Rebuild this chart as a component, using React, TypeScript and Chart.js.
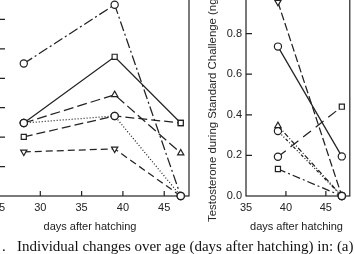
import React, { useEffect, useRef } from 'react';
import { Chart, registerables } from 'chart.js';
Chart.register(...registerables);

// ---- data ----
const leftDays = [28, 39, 47];
const leftSeriesA = [4.5, 6.5, 0];
const leftSeriesB = [2.48, 4.73, 2.48];
const leftSeriesC = [2.48, 3.44, 1.46];
const leftSeriesD = [2.48, 2.72, 0];
const leftSeriesE = [2.01, 2.72, 2.48];
const leftSeriesF = [1.5, 1.6, 0];
const leftXTicks = [25, 30, 35, 40, 45];
const leftYTicks = [0, 1, 2, 3, 4, 5, 6];

const rightDays = [39, 47];
const rightSeries1 = [0.955, 0];
const rightSeries2 = [0.736, 0.195];
const rightSeries3 = [0.346, 0];
const rightSeries4 = [0.32, 0];
const rightSeries5 = [0.193, 0.44];
const rightSeries6 = [0.133, 0];
const rightXTicks = [35, 40, 45];
const rightYTicks = [0, 0.2, 0.4, 0.6, 0.8, 1.0];
const rightYLabels = ['0.0', '0.2', '0.4', '0.6', '0.8', '1.0'];

const xTitle = 'days after hatching';
const yTitleRight = 'Testosterone during Standard Challenge (ng/ml)';
const caption = 'Individual changes over age (days after hatching) in: (a)';

const INK = '#222';
const TICK_FONT = { family: "'Liberation Sans', Arial, sans-serif", size: 11 };

const framePlugin = {
  id: 'frame',
  beforeDatasetsDraw(chart: any) {
    const { ctx, chartArea: a, scales } = chart;
    ctx.save();
    ctx.strokeStyle = INK;
    ctx.lineWidth = 1.2;
    ctx.strokeRect(a.left, a.top, a.right - a.left, a.bottom - a.top);
    ctx.beginPath();
    for (const t of scales.x.ticks) {
      const px = scales.x.getPixelForValue(t.value);
      if (px <= a.left + 1 || px >= a.right - 1) continue;
      ctx.moveTo(px, a.bottom);
      ctx.lineTo(px, a.bottom - 5);
    }
    for (const t of scales.y.ticks) {
      const py = scales.y.getPixelForValue(t.value);
      if (py >= a.bottom - 1 || py <= a.top + 1) continue;
      ctx.moveTo(a.left, py);
      ctx.lineTo(a.left + 6, py);
    }
    ctx.stroke();
    ctx.restore();
  },
};

function ds(days: number[], vals: number[], dash: number[], styles: string[], rot: number[]) {
  return {
    data: days.map((d, i) => ({ x: d, y: vals[i] })),
    borderColor: INK,
    borderWidth: 1.25,
    borderDash: dash,
    pointStyle: styles,
    pointRotation: rot,
    pointRadius: 3.6,
    pointBorderWidth: 1.2,
    pointBorderColor: INK,
    pointBackgroundColor: '#fff',
    tension: 0,
    fill: false,
    clip: false as any,
  };
}

function makeOptions(xMin: number, xMax: number, yMin: number, yMax: number, xTicks: number[], yTicks: number[], yWidth: number, showY: boolean, yLabels: string[] | null, pad: any) {
  return {
    responsive: false,
    animation: false as const,
    layout: { padding: pad },
    plugins: { legend: { display: false }, tooltip: { enabled: false } },
    scales: {
      x: {
        type: 'linear' as const,
        min: xMin,
        max: xMax,
        afterBuildTicks: (s: any) => { s.ticks = xTicks.map((v) => ({ value: v })); },
        afterFit: (s: any) => { s.height = 58; },
        grid: { display: false, drawTicks: false },
        border: { display: false },
        ticks: { color: INK, font: TICK_FONT, padding: 5, maxRotation: 0, autoSkip: false },
      },
      y: {
        type: 'linear' as const,
        min: yMin,
        max: yMax,
        afterBuildTicks: (s: any) => { s.ticks = yTicks.map((v) => ({ value: v })); },
        afterFit: (s: any) => { s.width = yWidth; },
        grid: { display: false, drawTicks: false },
        border: { display: false },
        ticks: {
          display: showY,
          color: INK,
          font: TICK_FONT,
          padding: 4,
          callback: (v: any) => {
            if (!yLabels) return String(v);
            const i = yTicks.findIndex((t) => Math.abs(t - v) < 1e-9);
            return i >= 0 ? yLabels[i] : '';
          },
        },
      },
    },
  };
}

export default function App() {
  const leftRef = useRef<HTMLCanvasElement>(null);
  const rightRef = useRef<HTMLCanvasElement>(null);

  useEffect(() => {
    const left = new Chart(leftRef.current!, {
      type: 'line',
      data: {
        datasets: [
          ds(leftDays, leftSeriesA, [10, 3, 2, 3], ['circle', 'circle', 'circle'], [0, 0, 0]),
          ds(leftDays, leftSeriesB, [], ['circle', 'rect', 'rect'], [0, 0, 0]),
          ds(leftDays, leftSeriesC, [10, 4], ['circle', 'triangle', 'triangle'], [0, 0, 0]),
          ds(leftDays, leftSeriesD, [1, 2], ['circle', 'circle', 'circle'], [0, 0, 0]),
          ds(leftDays, leftSeriesE, [9, 4], ['rect', 'circle', 'rect'], [0, 0, 0]),
          ds(leftDays, leftSeriesF, [7, 4], ['triangle', 'triangle', 'circle'], [180, 180, 0]),
        ] as any,
      },
      options: makeOptions(25, 48, 0, 7, leftXTicks, leftYTicks, 40, false, null, { left: 0, right: 10, top: 10, bottom: 0 }) as any,
      plugins: [framePlugin],
    });
    const right = new Chart(rightRef.current!, {
      type: 'line',
      data: {
        datasets: [
          ds(rightDays, rightSeries1, [8, 3], ['triangle', 'circle'], [180, 0]),
          ds(rightDays, rightSeries2, [], ['circle', 'circle'], [0, 0]),
          ds(rightDays, rightSeries3, [5, 2, 1, 2], ['triangle', 'circle'], [0, 0]),
          ds(rightDays, rightSeries4, [3, 2, 1, 2, 1, 2], ['circle', 'circle'], [0, 0]),
          ds(rightDays, rightSeries5, [10, 6], ['circle', 'rect'], [0, 0]),
          ds(rightDays, rightSeries6, [8, 3, 2, 3], ['rect', 'circle'], [0, 0]),
        ] as any,
      },
      options: makeOptions(35, 48, 0, 1, rightXTicks, rightYTicks, 46, true, rightYLabels, { left: 0, right: 2, top: 13, bottom: 0 }) as any,
      plugins: [framePlugin],
    });
    return () => {
      left.destroy();
      right.destroy();
    };
  }, []);

  const sans = "'Liberation Sans', Arial, sans-serif";
  const serif = "'Liberation Serif', 'Times New Roman', serif";
  return (
    <div style={{ position: 'fixed', left: 0, top: 0, width: 355, height: 254, overflow: 'hidden', background: '#fff' }}>
      <canvas ref={leftRef} width={240} height={274} style={{ position: 'absolute', left: -41, top: -20, width: 240, height: 274 }} />
      <canvas ref={rightRef} width={155} height={274} style={{ position: 'absolute', left: 200, top: -20, width: 155, height: 274 }} />
      <div style={{ position: 'absolute', left: 0, width: 180, top: 219, textAlign: 'center', font: `11px ${sans}`, color: INK, lineHeight: '14px', whiteSpace: 'nowrap' }}>{xTitle}</div>
      <div style={{ position: 'absolute', left: 246, width: 101, top: 219, textAlign: 'center', font: `11px ${sans}`, color: INK, lineHeight: '14px', whiteSpace: 'nowrap' }}>{xTitle}</div>
      <div style={{ position: 'absolute', left: 206, top: 222, font: `11.4px ${sans}`, color: INK, lineHeight: '13px', whiteSpace: 'nowrap', transform: 'rotate(-90deg)', transformOrigin: 'left top' }}>{yTitleRight}</div>
      <div style={{ position: 'absolute', left: 2, top: 238, font: `15px ${serif}`, color: '#111', lineHeight: '17px', whiteSpace: 'nowrap' }}>.</div>
      <div style={{ position: 'absolute', left: 17, top: 238, font: `15px ${serif}`, color: '#111', lineHeight: '17px', whiteSpace: 'nowrap' }}>{caption}</div>
    </div>
  );
}
